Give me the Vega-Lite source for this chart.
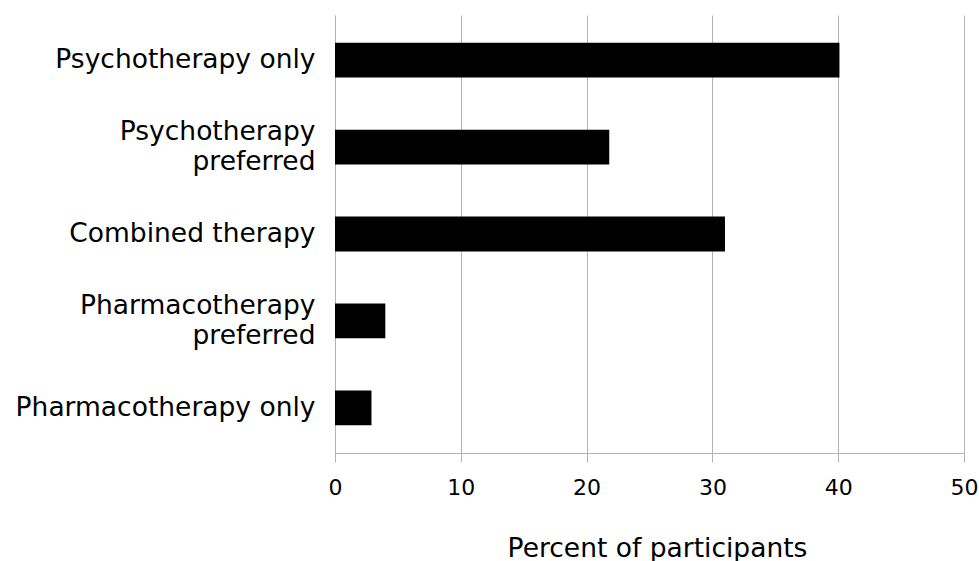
{
  "$schema": "https://vega.github.io/schema/vega-lite/v6.json",
  "width": 629,
  "height": 438,
  "autosize": "none",
  "padding": {"left": 335, "top": 15, "right": 15, "bottom": 108},
  "background": "white",
  "config": {"view": {"stroke": null}, "font": "DejaVu Sans"},
  "data": {
    "values": [
      {"category": "Psychotherapy only", "percent": 40.1},
      {"category": "Psychotherapy preferred", "percent": 21.8},
      {"category": "Combined therapy", "percent": 31.0},
      {"category": "Pharmacotherapy preferred", "percent": 4.0},
      {"category": "Pharmacotherapy only", "percent": 2.9}
    ]
  },
  "mark": {"type": "bar", "color": "black"},
  "encoding": {
    "y": {
      "field": "category",
      "type": "nominal",
      "sort": null,
      "scale": {"paddingInner": 0.6, "paddingOuter": 0.32},
      "axis": {
        "title": null,
        "labelFontSize": 26.5,
        "labelColor": "black",
        "labelPadding": 20,
        "ticks": false,
        "domainColor": "#b3b3b3",
        "labelLimit": 400,
        "labelLineHeight": 30,
        "labelOffset": {"condition": {"test": "indexof(datum.value, 'preferred') >= 0", "value": -15}, "value": 0},
        "labelExpr": "datum.value == 'Psychotherapy preferred' ? ['Psychotherapy', 'preferred'] : datum.value == 'Pharmacotherapy preferred' ? ['Pharmacotherapy', 'preferred'] : datum.label"
      }
    },
    "x": {
      "field": "percent",
      "type": "quantitative",
      "scale": {"domain": [0, 50], "nice": false},
      "axis": {
        "values": [0, 10, 20, 30, 40, 50],
        "title": "Percent of participants",
        "titleFontSize": 26.5,
        "titleFontWeight": "normal",
        "titleColor": "black",
        "titlePadding": 37,
        "titleX": 322,
        "labelFontSize": 22,
        "labelColor": "black",
        "labelPadding": 15,
        "labelFlush": false,
        "tickSize": 9,
        "tickColor": "#b3b3b3",
        "domainColor": "#b3b3b3",
        "gridColor": "#b3b3b3"
      }
    }
  }
}
